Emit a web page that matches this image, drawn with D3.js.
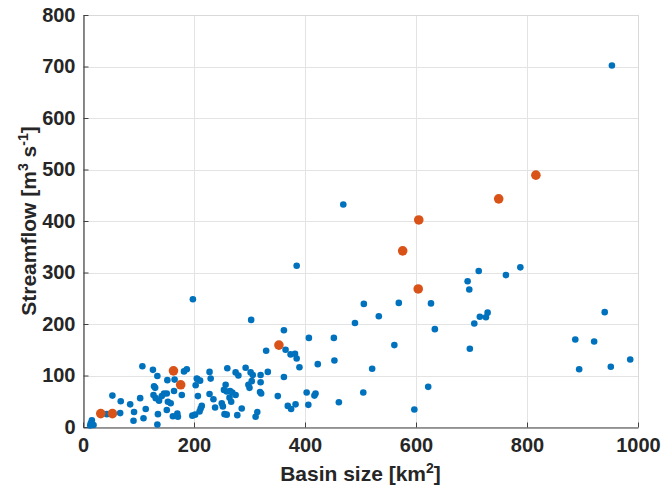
<!DOCTYPE html>
<html>
<head>
<meta charset="utf-8">
<script src="https://cdn.jsdelivr.net/npm/d3@7"></script>
<style>
  body { margin: 0; background: #fff; }
  text { font-family: "Liberation Sans", Arial, sans-serif; font-weight: bold; fill: #262626; }
</style>
</head>
<body>
<div id="chart"></div>
<script>
// Blue points: basin size [km2] and streamflow [m3 s-1]
const basinSize = [
  16, 14, 19, 13, 43, 53, 67, 68, 85, 91, 92, 103, 107, 109, 113,
  126, 128, 127, 130, 131, 134, 134, 135, 137, 142, 146, 151, 151, 152, 153,
  158, 162, 164, 165, 170, 171, 178, 182, 187, 197, 202, 203, 205, 206, 211,
  207, 214, 212, 210, 228, 230, 228, 235, 238, 250, 252, 255, 259, 257, 254,
  259, 265, 269, 260, 264, 267, 275, 280, 275, 278, 286, 293, 298, 300, 304,
  302, 306, 311, 314, 320, 320, 319, 321, 330, 333, 351, 362, 365, 374, 382,
  385, 390, 369, 375, 383, 403, 406, 417, 419, 423, 453, 407, 452, 461, 505,
  521, 597, 622, 198, 303, 362, 385, 469, 490, 506, 533, 561, 569, 627, 634,
  693, 696, 713, 762, 788, 697, 705, 715, 726, 729, 887, 921, 940, 894, 951,
  986, 953
];
const streamflow = [
  13, 7, 4, 3, 25, 61, 27, 50, 44, 12, 29, 56, 118, 17, 35,
  111, 79, 62, 76, 56, 99, 5, 25, 51, 60, 65, 65, 33, 91, 49,
  46, 21, 70, 92, 26, 20, 62, 108, 112, 22, 24, 81, 94, 93, 90,
  60, 41, 36, 30, 107, 94, 64, 54, 38, 46, 40, 25, 24, 82, 72,
  69, 70, 67, 114, 57, 49, 106, 100, 62, 23, 36, 115, 82, 76, 89,
  106, 101, 20, 29, 101, 87, 68, 65, 148, 107, 60, 97, 150, 141, 142,
  133, 116, 41, 35, 44, 67, 43, 61, 65, 122, 129, 173, 173, 48, 67,
  113, 34, 78, 248, 208, 188, 313, 432, 202, 239, 215, 159, 241, 240, 190,
  283, 267, 303, 295, 310, 152, 201, 214, 213, 222, 170, 166, 223, 112, 117,
  131, 702
];

// Highlighted (orange) points
const basinSizeHi = [32, 53, 163, 176, 353, 576, 605, 604, 749, 816];
const streamflowHi = [26, 26, 109, 82, 159, 342, 402, 268, 443, 489];

const xTicks = [0, 200, 400, 600, 800, 1000];
const yTicks = [0, 100, 200, 300, 400, 500, 600, 700, 800];

const width = 670;
const height = 489;
const margin = { top: 15, right: 32, bottom: 62, left: 83 };

const svg = d3.select("#chart")
  .append("svg")
  .attr("width", width)
  .attr("height", height);

const x = d3.scaleLinear()
  .domain([0, 1000])
  .range([margin.left, width - margin.right]);

const y = d3.scaleLinear()
  .domain([0, 800])
  .range([height - margin.bottom, margin.top]);

// Grid
const grid = svg.append("g").attr("stroke", "#e3e3e3").attr("stroke-width", 1);
grid.selectAll(".gx")
  .data(xTicks)
  .join("line")
  .attr("x1", d => Math.round(x(d)) + 0.5)
  .attr("x2", d => Math.round(x(d)) + 0.5)
  .attr("y1", y(0))
  .attr("y2", y(800));
grid.selectAll(".gy")
  .data(yTicks)
  .join("line")
  .attr("x1", x(0))
  .attr("x2", x(1000))
  .attr("y1", d => Math.round(y(d)) + 0.5)
  .attr("y2", d => Math.round(y(d)) + 0.5);

// Box edges on top/right (light)
svg.append("path")
  .attr("fill", "none")
  .attr("stroke", "#d9d9d9")
  .attr("d", `M${x(0)},${Math.round(y(800)) + 0.5}H${Math.round(x(1000)) + 0.5}V${y(0)}`);

// Axes
const xAxis = svg.append("g")
  .attr("transform", `translate(0,${Math.round(y(0)) + 0.5})`)
  .call(d3.axisBottom(x).tickValues(xTicks).tickFormat(d3.format("d"))
    .tickSize(-5).tickPadding(10).tickSizeOuter(0));

const yAxis = svg.append("g")
  .attr("transform", `translate(${Math.round(x(0)) + 0.5},0)`)
  .call(d3.axisLeft(y).tickValues(yTicks).tickFormat(d3.format("d"))
    .tickSize(-5).tickPadding(8).tickSizeOuter(0));

[xAxis, yAxis].forEach(a => {
  a.select(".domain").attr("stroke", "#404040").attr("stroke-width", 1.2);
  a.selectAll(".tick line").attr("stroke", "#404040");
  a.selectAll(".tick text")
    .style("font-size", "20px")
    .style("font-weight", "bold")
    .attr("fill", "#262626");
});

// Points
svg.append("g")
  .selectAll("circle")
  .data(basinSize.map((d, i) => [d, streamflow[i]]))
  .join("circle")
  .attr("cx", d => x(d[0]))
  .attr("cy", d => y(d[1]))
  .attr("r", 3.3)
  .attr("fill", "#0072BD");

svg.append("g")
  .selectAll("circle")
  .data(basinSizeHi.map((d, i) => [d, streamflowHi[i]]))
  .join("circle")
  .attr("cx", d => x(d[0]))
  .attr("cy", d => y(d[1]))
  .attr("r", 4.8)
  .attr("fill", "#D95319");

// Axis labels
const xl = svg.append("text")
  .attr("x", (x(0) + x(1000)) / 2)
  .attr("y", 481)
  .attr("text-anchor", "middle")
  .style("font-size", "21px");
xl.append("tspan").text("Basin size [km");
xl.append("tspan").attr("dy", -8).style("font-size", "14px").text("2");
xl.append("tspan").attr("dy", 8).text("]");

const yl = svg.append("text")
  .attr("transform", `translate(36,${(y(0) + y(800)) / 2}) rotate(-90)`)
  .attr("text-anchor", "middle")
  .style("font-size", "21px");
yl.append("tspan").text("Streamflow [m");
yl.append("tspan").attr("dy", -8).style("font-size", "14px").text("3");
yl.append("tspan").attr("dy", 8).text(" s");
yl.append("tspan").attr("dy", -8).style("font-size", "14px").text("-1");
yl.append("tspan").attr("dy", 8).text("]");
</script>
</body>
</html>
